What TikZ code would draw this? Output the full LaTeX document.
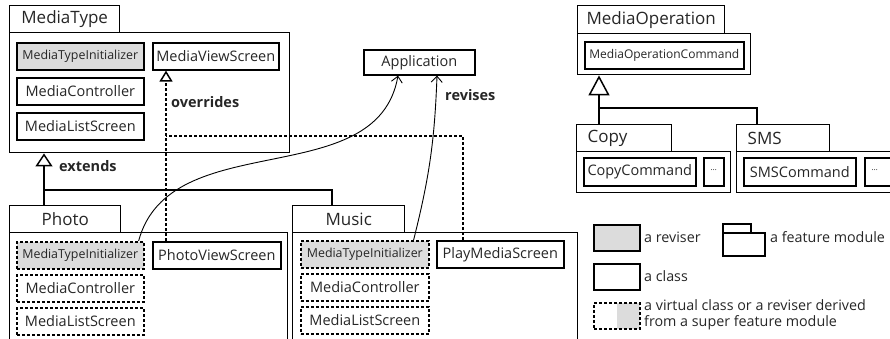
\documentclass[tikz,border=0pt]{standalone}
\usepackage{fontspec}
\setmainfont{Open Sans}
\usetikzlibrary{arrows.meta}
\definecolor{revgray}{RGB}{220,220,220}

\begin{document}
\begin{tikzpicture}[
    x=1pt, y=1pt,
    every node/.style={text=black!85},
    klass/.style 2 args={draw,line width=1.6pt,anchor=north west,inner sep=0pt,
      minimum width=#1,minimum height=#2,font=\fontsize{14.5}{16}\selectfont},
    reviser/.style 2 args={klass={#1}{#2},fill=revgray,font=\fontsize{12.4}{14}\selectfont},
    vklass/.style 2 args={klass={#1}{#2},dash pattern=on 3pt off 2pt},
    vreviser/.style 2 args={reviser={#1}{#2},dash pattern=on 3pt off 2pt},
    modtab/.style 2 args={draw,line width=1.4pt,anchor=north west,inner sep=0pt,
      minimum width=#1,minimum height=#2,font=\fontsize{17}{19}\selectfont},
    modbody/.style 2 args={draw,line width=1.4pt,anchor=north west,inner sep=0pt,
      minimum width=#1,minimum height=#2},
    inherit/.style={line width=1.5pt,-{Triangle[open,width=17pt,length=13pt]}},
    vinherit/.style={line width=1.6pt,dash pattern=on 3pt off 2pt,
      -{Triangle[open,width=13pt,length=11pt,line width=1.5pt]}},
    tie/.style={line width=1.5pt},
    vtie/.style={line width=1.6pt,dash pattern=on 3pt off 2pt},
    revise/.style={line width=0.9pt,-{Straight Barb[length=6pt,width=11pt]}},
    lbl/.style={anchor=west,inner sep=0pt,font=\bfseries\fontsize{14.5}{16}\selectfont},
    legend/.style={anchor=west,inner sep=0pt,align=left,font=\fontsize{14.3}{16}\selectfont}
]
\clip (0,0) rectangle (890,338);

%MediaType module
\node[modtab={110pt}{27pt}] (mttab) at (9,333) {MediaType};
\node[modbody={280pt}{120pt}] (mtbody) at (9,306) {};
\node[reviser={127pt}{27pt}] (mti1) at (16,296) {MediaTypeInitializer};
\node[klass={126pt}{27pt}] (mvs) at (152,296) {MediaViewScreen};
\node[klass={127pt}{27pt}] (mc1) at (16,261) {MediaController};
\node[klass={127pt}{27pt}] (mls1) at (16,226) {MediaListScreen};

\node[klass={111pt}{25pt}] (app) at (363,289) {Application};

%Photo module
\node[modtab={111pt}{27pt}] (phototab) at (9,133) {Photo};
\node[modbody={278pt}{130pt}] (photobody) at (9,106) {};
\node[vreviser={127pt}{27pt}] (mti2) at (16,97) {MediaTypeInitializer};
\node[klass={128pt}{27pt}] (pvs) at (152,97) {PhotoViewScreen};
\node[vklass={127pt}{27pt}] (mc2) at (16,64) {MediaController};
\node[vklass={127pt}{27pt}] (mls2) at (16,31) {MediaListScreen};

%Music module
\node[modtab={112pt}{27pt}] (musictab) at (292,133) {Music};
\node[modbody={285pt}{130pt}] (musicbody) at (292,106) {};
\node[vreviser={128pt}{27pt}] (mti3) at (300,98) {MediaTypeInitializer};
\node[klass={127pt}{27pt}] (pms) at (436,98) {PlayMediaScreen};
\node[vklass={128pt}{27pt}] (mc3) at (300,65) {MediaController};
\node[vklass={128pt}{27pt}] (mls3) at (300,32) {MediaListScreen};

%MediaOperation module
\node[modtab={147pt}{28pt}] (motab) at (577,333) {MediaOperation};
\node[modbody={173pt}{41pt}] (mobody) at (577,305) {};
\node[klass={159pt}{27pt},font=\fontsize{12}{14}\selectfont] (moc) at (584,297) {MediaOperationCommand};

\node[modtab={95pt}{27pt},text width=73pt,inner xsep=11pt,align=left] (copytab) at (576,214) {Copy};
\node[modbody={154pt}{41pt}] (copybody) at (576,187) {};
\node[klass={112pt}{28pt}] (cc) at (583,181) {CopyCommand};
\node[klass={20pt}{28pt},font=\fontsize{8}{9}\selectfont] (dots1) at (703,181) {\raisebox{4pt}{…}};

\node[modtab={93pt}{27pt},text width=71pt,inner xsep=11pt,align=left] (smstab) at (736,214) {SMS};
\node[modbody={170pt}{41pt}] (smsbody) at (736,187) {};
\node[klass={112pt}{28pt}] (sc) at (743,181) {SMSCommand};
\node[klass={28pt}{28pt},font=\fontsize{8}{9}\selectfont] (dots2) at (864,181) {\raisebox{4pt}{\hspace*{-8pt}…}};

%Draw the connections
\draw[inherit] ([xshift=35pt]phototab.north west) -- ([xshift=35pt]mtbody.south west);
\coordinate (fork) at (44,148);
\draw[tie] (fork) -| ([xshift=40pt]musictab.north west);
\node[lbl] (extlbl) at (59,172) {extends};

\draw[vinherit] ([xshift=14pt]pvs.north west) -- ([xshift=14pt]mvs.south west);
\coordinate (vjoin) at (166,202);
\draw[vtie] ([xshift=27pt]pms.north west) |- (vjoin);
\node[lbl] (ovrlbl) at (171,236) {overrides};

\draw[revise] ([xshift=-6pt]mti2.north east) to[out=75,in=-100] ([xshift=35pt]app.south west);
\draw[revise] ([xshift=-16pt]mti3.north east) to[bend right=6] ([xshift=74pt]app.south west);
\node[lbl] (revlbl) at (445,243) {revises};

\draw[inherit,-{Triangle[open,width=21pt,length=20pt]}] ([xshift=23pt]copytab.north west) -- ([xshift=22pt]mobody.south west);
\coordinate (opfork) at (599,230);
\draw[tie] (opfork) -| ([xshift=21pt]smstab.north west);

%Legend
\node[klass={46pt}{26pt},fill=revgray] (legrev) at (593,114) {};
\node[legend] (legrevtxt) at (644,101) {a reviser};
\node[modtab={28pt}{9pt},line width=1.6pt] (legtab) at (722,115) {};
\node[modbody={42pt}{23pt},line width=1.6pt] (legbody) at (722,106) {};
\node[legend] (legmodtxt) at (770,101) {a feature module};
\node[klass={46pt}{26pt}] (legcls) at (593,75) {};
\node[legend] (legclstxt) at (644,62) {a class};
\node[vklass={46pt}{26pt},path picture={\fill[revgray] (path picture bounding box.north)
  rectangle (path picture bounding box.south east);}] (legvir) at (593,36) {};
\node[legend] (legvirtxt) at (644,23) {a virtual class or a reviser derived\\from a super feature module};

\end{tikzpicture}
\end{document}
